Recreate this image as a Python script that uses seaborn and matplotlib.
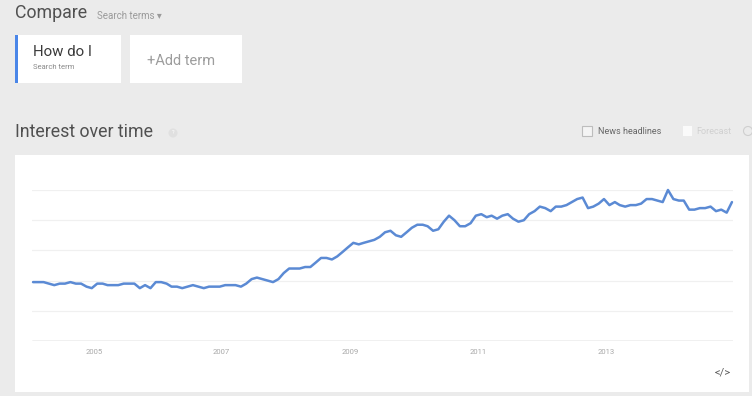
import numpy as np
import pandas as pd
import matplotlib
matplotlib.use("Agg")
import matplotlib.pyplot as plt
from matplotlib.patches import Rectangle, Circle
import seaborn as sns

# ---------------- data ----------------
start_month = "2004-01-01"
interest = [
    39, 39, 39, 38, 37, 38, 38, 39, 38, 38, 36, 35,
    38, 38, 37, 37, 37, 38, 38, 38, 35, 37, 35, 39,
    39, 38, 36, 36, 35, 36, 37, 36, 35, 36, 36, 36,
    37, 37, 37, 36, 38, 41, 42, 41, 40, 39, 41, 45,
    48, 48, 48, 49, 49, 52, 55, 55, 54, 56, 59, 62,
    65, 64, 65, 66, 67, 69, 72, 73, 70, 69, 72, 75,
    77, 77, 76, 73, 74, 79, 83, 80, 76, 76, 78, 83,
    84, 82, 83, 81, 83, 84, 81, 79, 80, 84, 86, 89,
    88, 86, 89, 89, 90, 92, 94, 95, 88, 89, 91, 94,
    90, 92, 90, 89, 90, 90, 91, 94, 94, 93, 92, 100,
    94, 93, 93, 87, 87, 88, 88, 89, 86, 87, 85, 92,
]
year_ticks = [2005, 2007, 2009, 2011, 2013]
grid_values = [20, 40, 60, 80, 100]
term = "How do I"

dates = pd.date_range(start_month, periods=len(interest), freq="MS")
df = pd.DataFrame({"date": dates, "interest": interest})

# ---------------- style ----------------
sns.set_style("white")
plt.rcParams["font.family"] = ["Roboto", "DejaVu Sans"]

W, H = 752, 396
fig = plt.figure(figsize=(W / 100, H / 100), dpi=100)
fig.patch.set_facecolor("#ebebeb")


def fx(x):
    return x / W


def fy(y):
    return 1 - y / H


def rect(x0, y0, x1, y1, color, **kw):
    fig.add_artist(Rectangle((fx(x0), fy(y1)), fx(x1) - fx(x0), fy(y0) - fy(y1),
                             transform=fig.transFigure, facecolor=color,
                             edgecolor=kw.pop("edgecolor", "none"), zorder=0.5, **kw))


def circ(x, y, r, **kw):
    fig.add_artist(Circle((x / 100, (H - y) / 100), r / 100,
                          transform=fig.dpi_scale_trans, zorder=0.6, **kw))


def txt(x, y, s, **kw):
    fig.text(fx(x), fy(y), s, va="center", **kw)


# header
txt(15, 13, "Compare", fontsize=12.8, color="#505050")
txt(97, 16, "Search terms \u25be", fontsize=7, color="#9a9a9a")

# term cards
rect(15, 35, 121, 83, "white")
rect(15, 35, 17.5, 83, "#4a86e8")
txt(33, 52, term, fontsize=10.8, color="#3a3a3a")
txt(33, 67, "Search term", fontsize=5.5, color="#8a8a8a")
rect(130, 35, 242, 83, "white")
txt(147, 61, "+Add term", fontsize=10.5, color="#9d9d9d")

# section title
txt(15, 132, "Interest over time", fontsize=12.8, color="#505050")
circ(173, 133, 4.5, facecolor="#e0e0e0", edgecolor="none")
txt(173, 133, "?", fontsize=4, color="white", ha="center")

# options
rect(582, 126, 592, 136, "#f4f4f4", edgecolor="#bdbdbd", linewidth=0.8)
txt(598, 131, "News headlines", fontsize=6.5, color="#666666")
rect(683, 126, 692, 136, "#fafafa")
txt(696, 131, "Forecast", fontsize=6.5, color="#d0d0d0")
circ(748, 131, 4.5, facecolor="none", edgecolor="#cfcfcf", linewidth=0.8)

# chart panel
rect(15, 155, 749, 392, "white")

# chart axes
ax = fig.add_axes([fx(32), fy(341), fx(733) - fx(32), fy(190) - fy(341)])
ax.set_zorder(5)
ax.set_facecolor("none")
ax.patch.set_alpha(0)
sns.lineplot(data=df, x="date", y="interest", ax=ax, color="#5b8ad4",
             linewidth=1.8, clip_on=False, zorder=3)
ax.set_ylim(0, 100)
pad = pd.Timedelta(days=6)
ax.set_xlim(dates[0] - pad, dates[-1] + pad)
for g in grid_values:
    ax.axhline(g, color="#f0f0f0", linewidth=0.9, zorder=1)
ax.axhline(0, color="#b4b4b4", linewidth=1.0, zorder=2)
for s in ax.spines.values():
    s.set_visible(False)
ax.set_yticks([])
ax.set_xticks([pd.Timestamp(f"{y}-01-01") - pd.Timedelta(days=20) for y in year_ticks])
ax.set_xticklabels([str(y) for y in year_ticks], fontsize=5.5, color="#a8a8a8")
ax.tick_params(axis="x", length=0, pad=6)
ax.set_xlabel("")
ax.set_ylabel("")

txt(723, 373, "</>", fontsize=8, color="#606060", ha="center")

fig.savefig("out.png", dpi=100, facecolor=fig.get_facecolor())
